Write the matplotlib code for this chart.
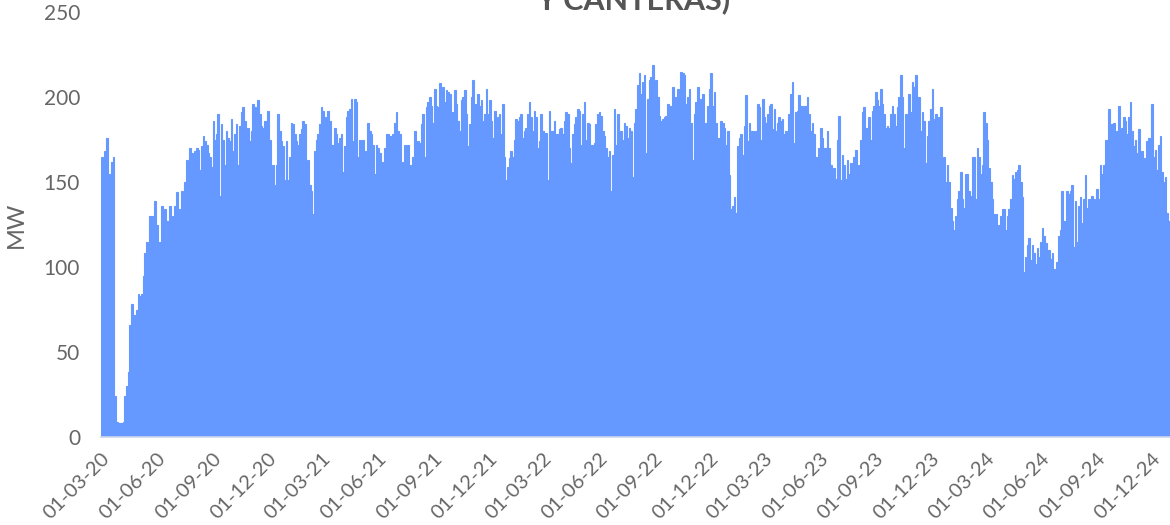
import numpy as np
import pandas as pd
import matplotlib
matplotlib.use('Agg')
import matplotlib.pyplot as plt
import matplotlib.dates as mdates

# MW, one reading roughly every 2.75 days from 01-03-20
mw_2020 = [165, 163, 168, 176, 148, 155, 162, 165, 24, 9, 8, 8, 8, 9, 24, 30, 38, 66, 78, 72,
           72, 75, 84, 83, 84, 95, 108, 115, 105, 130, 130, 112, 139, 125, 111, 115, 136, 130, 134, 127,
           114, 136, 130, 125, 136, 144, 130, 134, 145, 140, 150, 163, 160, 170, 167, 163, 168, 170, 169, 157,
           171, 177, 174, 172, 167, 165, 159, 186, 175, 178, 190, 142, 184, 175, 160, 180, 176, 174, 187, 168,
           178, 184, 160, 183, 191, 194, 186, 180, 182, 174, 180, 196, 194, 192, 198, 190, 183, 182, 186, 186,
           192, 175]
mw_2021 = [132, 160, 148, 160, 190, 180, 174, 171, 151, 174, 151, 165, 185, 184, 178, 174, 172, 178, 181, 186,
           184, 150, 163, 148, 145, 131, 168, 175, 178, 184, 194, 192, 188, 185, 192, 186, 172, 172, 182, 178,
           173, 176, 178, 156, 171, 188, 192, 193, 199, 174, 199, 197, 165, 175, 160, 175, 168, 162, 185, 180,
           178, 172, 155, 172, 170, 167, 160, 162, 170, 178, 178, 177, 177, 178, 185, 191, 180, 178, 160, 162,
           172, 158, 172, 160, 140, 165, 180, 165, 174, 173, 184, 190, 165, 194, 197, 200, 195, 185, 205, 195,
           194, 208, 202, 206, 197, 204, 203, 202]
mw_2022a = [185, 191, 204, 196, 186, 180, 198, 200, 204, 190, 171, 184, 200, 210, 196, 188, 202, 195, 198, 186,
            190, 205, 190, 198, 186, 176, 192, 184, 188, 190, 178, 196, 165, 151, 159, 164, 168, 165, 175, 187,
            186, 188, 190, 176, 180, 182, 190, 197, 188, 180, 192, 188, 170, 174, 190, 180, 149, 179, 151, 192,
            180, 180, 186, 178, 178, 181, 182, 178, 186, 191, 190, 170, 161, 178, 184, 188, 193, 192, 172, 190,
            197, 175, 185, 184, 172, 172, 173, 184, 190, 191, 189, 180, 177, 170, 165, 168, 145, 166, 193, 172,
            190, 163, 180, 175, 185]
mw_2022b = [183, 176, 182, 180, 153, 185, 193, 207, 214, 202, 209, 213, 167, 199, 210, 212, 219, 208, 210, 200,
            189, 186, 187, 188, 189, 196, 186, 195, 206, 198, 200, 205, 182, 215, 214, 213, 196, 200, 205, 185,
            163, 190, 197, 206, 185, 199, 202, 172, 185, 195, 205, 214, 195, 203, 185, 176, 176, 186, 185, 182,
            172, 180, 154, 134, 136, 141, 132, 171, 176, 178, 166, 183, 201, 174, 185, 180, 180, 170, 180, 196,
            194, 175, 199, 188, 185, 190, 195, 196, 181, 193, 180, 185, 188, 186, 187, 178, 180, 175, 190, 202,
            209, 173, 191, 192, 201]
mw_2023 = [195, 184, 195, 195, 200, 190, 180, 185, 178, 165, 160, 170, 182, 176, 170, 170, 180, 170, 160, 150,
           158, 152, 175, 189, 151, 166, 160, 152, 163, 155, 161, 151, 165, 169, 138, 160, 175, 191, 194, 182,
           182, 188, 175, 192, 195, 203, 198, 195, 205, 196, 190, 182, 183, 182, 190, 195, 190, 183, 194, 200,
           213, 200, 170, 190, 186, 202, 191, 209, 206, 213, 200, 200, 180, 191, 186, 161, 177, 186, 193, 205,
           187, 190, 186, 188, 194, 150, 165, 150, 160, 150, 135, 127, 122, 130, 140, 145, 156, 140, 135, 155,
           155, 145, 142, 165, 165, 140, 170, 165, 155, 160, 191]
mw_2024 = [185, 175, 158, 150, 140, 131, 131, 122, 125, 130, 134, 134, 122, 130, 134, 140, 154, 152, 156, 157,
           160, 150, 141, 97, 106, 113, 117, 104, 113, 108, 102, 111, 106, 115, 123, 118, 114, 110, 110, 105,
           108, 99, 75, 103, 118, 122, 145, 127, 123, 145, 143, 145, 148, 112, 139, 115, 136, 141, 126, 140,
           154, 135, 140, 137, 142, 140, 135, 146, 140, 160, 155, 160, 175, 175, 193, 180, 184, 185, 176, 180,
           195, 175, 182, 188, 186, 178, 188, 197, 180, 171, 175, 167, 181, 159, 168, 164, 143, 174, 176, 171,
           196, 165, 169, 157, 172, 177, 156, 150, 153, 132, 127]

mw = mw_2020 + mw_2021 + mw_2022a + mw_2022b + mw_2023 + mw_2024
dates = pd.date_range('2020-03-01', periods=len(mw), freq='66h')

tick_dates = pd.date_range('2020-03-01', '2024-12-01', freq='3MS')
y_ticks = [0, 50, 100, 150, 200, 250]

bar_color = '#6699ff'
text_color = '#666666'

plt.rcParams['font.family'] = ['Lato', 'DejaVu Sans']

fig = plt.figure(figsize=(11.7, 5.25), dpi=100)
ax = fig.add_axes([0.0863, 0.1676, 0.9137, 0.8095])

ax.bar(dates, mw, width=2.75, align='edge', color=bar_color,
       edgecolor=bar_color, linewidth=0.8)

ax.set_xlim(pd.Timestamp('2020-03-01'), pd.Timestamp('2024-12-31'))
ax.set_ylim(0, 250)
ax.set_yticks(y_ticks)
ax.set_xticks(tick_dates)
ax.xaxis.set_major_formatter(mdates.DateFormatter('%d-%m-%y'))

for lbl in ax.get_xticklabels():
    lbl.set_rotation(45)
    lbl.set_ha('right')
    lbl.set_va('top')
    lbl.set_rotation_mode('anchor')

ax.tick_params(axis='x', length=0, pad=9, labelsize=14.5, labelcolor=text_color)
ax.tick_params(axis='y', length=0, pad=15, labelsize=15, labelcolor=text_color)

for s in ['top', 'right', 'left']:
    ax.spines[s].set_visible(False)
ax.spines['bottom'].set_color('#ccd6eb')
ax.spines['bottom'].set_linewidth(1.2)

ax.set_ylabel('MW', fontsize=17, color=text_color, labelpad=12)

fig.text(0.541, 0.983, 'Y CANTERAS)', ha='center', va='baseline',
         fontsize=22, fontweight='bold', color='#555555')

fig.savefig('out.png', dpi=100)
